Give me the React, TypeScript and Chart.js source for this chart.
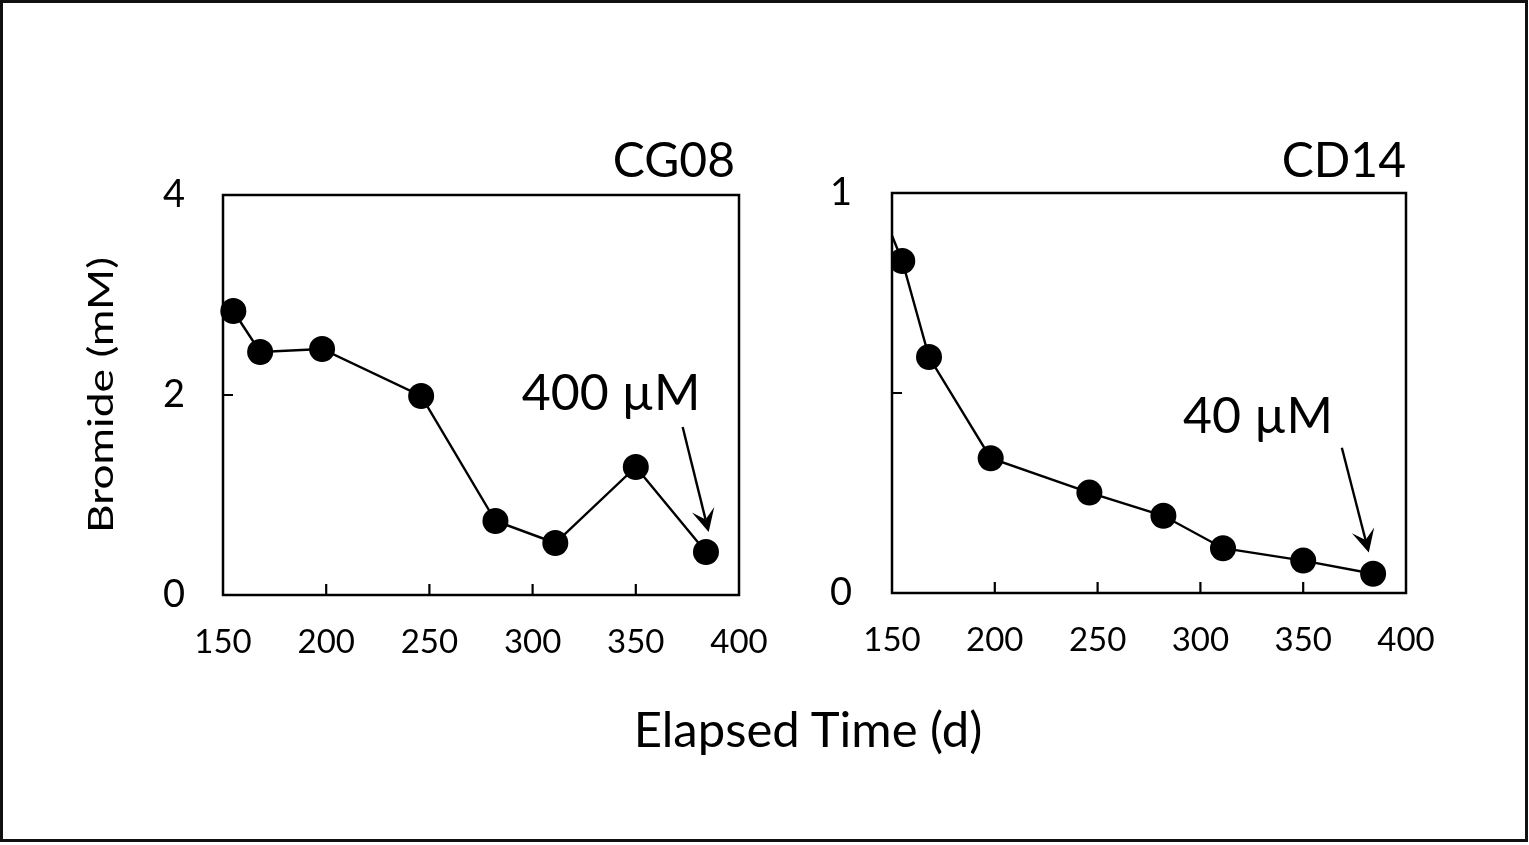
import React, { useEffect, useRef } from "react";
import { Chart, registerables } from "chart.js";

Chart.register(...registerables);

// ---- data ----
const sampleDays = [155, 168, 198, 246, 282, 311, 350, 384];
const cg08Bromide = [2.84, 2.43, 2.46, 1.99, 0.74, 0.52, 1.28, 0.43];
// CD14 has an earlier sample (day 140) that lies left of the plotted window
const cd14Days = [140, 155, 168, 198, 246, 282, 311, 350, 384];
const cd14Bromide = [1.02, 0.83, 0.59, 0.337, 0.251, 0.193, 0.112, 0.081, 0.048];
const xTickValues = [150, 200, 250, 300, 350, 400];
const cg08YTicks = [0, 2, 4];
const cd14YTicks = [0, 0.5, 1];
const cd14HiddenYLabels = [0.5];

const FONT = "Lato, 'Open Sans', 'DejaVu Sans', sans-serif";

type Note = { text: string; tx: number; ty: number; from: [number, number]; to: [number, number] };

type Panel = {
  title: string;
  titleInset: number;
  titleGap: number;
  xs: number[];
  ys: number[];
  hiddenBefore: number;
  yMax: number;
  yTicks: number[];
  hiddenLabels: number[];
  yWidth: number;
  xHeight: number;
  padTop: number;
  padRight: number;
  yLabelPad: number;
  yTitle?: string;
  note: Note;
  clip: any;
};

const cg08Panel: Panel = {
  title: "CG08",
  titleInset: 4,
  titleGap: 18,
  xs: sampleDays,
  ys: cg08Bromide,
  hiddenBefore: 150,
  yMax: 4,
  yTicks: cg08YTicks,
  hiddenLabels: [],
  yWidth: 163,
  xHeight: 105,
  padTop: 95,
  padRight: 41,
  yLabelPad: 38,
  yTitle: "Bromide (mM)",
  note: { text: "400 µM", tx: 338, ty: 1.85, from: [372.7, 1.68], to: [385.3, 0.63] },
  clip: false,
};

const cd14Panel: Panel = {
  title: "CD14",
  titleInset: 0,
  titleGap: 16,
  xs: cd14Days,
  ys: cd14Bromide,
  hiddenBefore: 150,
  yMax: 1,
  yTicks: cd14YTicks,
  hiddenLabels: cd14HiddenYLabels,
  yWidth: 112,
  xHeight: 107,
  padTop: 93,
  padRight: 94,
  yLabelPad: 40,
  note: { text: "40 µM", tx: 328, ty: 0.4, from: [368.8, 0.363], to: [381.9, 0.101] },
  clip: { left: 1, right: 30, top: 30, bottom: 30 },
};

function makeDecor(panel: Panel) {
  return {
    id: "decor",
    beforeDatasetsDraw(chart: any) {
      const { ctx, chartArea: a, scales } = chart;
      ctx.save();
      ctx.strokeStyle = "#000";
      ctx.lineWidth = 2.5;
      ctx.strokeRect(a.left, a.top, a.right - a.left, a.bottom - a.top);
      ctx.lineWidth = 2.2;
      ctx.beginPath();
      for (const v of xTickValues) {
        if (v <= scales.x.min || v >= scales.x.max) continue;
        const px = scales.x.getPixelForValue(v);
        ctx.moveTo(px, a.bottom);
        ctx.lineTo(px, a.bottom - 11);
      }
      for (const v of panel.yTicks) {
        if (v <= scales.y.min || v >= scales.y.max) continue;
        const py = scales.y.getPixelForValue(v);
        ctx.moveTo(a.left, py);
        ctx.lineTo(a.left + 10, py);
      }
      ctx.stroke();
      ctx.restore();
    },
    afterDraw(chart: any) {
      const { ctx, chartArea: a, scales } = chart;
      ctx.save();
      ctx.fillStyle = "#000";
      ctx.strokeStyle = "#000";
      // panel title
      ctx.font = `48px ${FONT}`;
      ctx.textAlign = "right";
      ctx.textBaseline = "alphabetic";
      ctx.fillText(panel.title, a.right - panel.titleInset, a.top - panel.titleGap);

      // annotation text
      const n = panel.note;
      ctx.font = `50px ${FONT}`;
      ctx.textAlign = "center";
      ctx.fillText(n.text, scales.x.getPixelForValue(n.tx), scales.y.getPixelForValue(n.ty));

      // arrow
      const x1 = scales.x.getPixelForValue(n.from[0]);
      const y1 = scales.y.getPixelForValue(n.from[1]);
      const x2 = scales.x.getPixelForValue(n.to[0]);
      const y2 = scales.y.getPixelForValue(n.to[1]);
      const len = Math.hypot(x2 - x1, y2 - y1);
      const ux = (x2 - x1) / len;
      const uy = (y2 - y1) / len;
      const px = -uy;
      const py = ux;
      const headLen = 23;
      const headHalf = 11.5;
      const notch = 13;
      ctx.lineWidth = 2.4;
      ctx.beginPath();
      ctx.moveTo(x1, y1);
      ctx.lineTo(x2 - ux * notch, y2 - uy * notch);
      ctx.stroke();
      ctx.beginPath();
      ctx.moveTo(x2, y2);
      ctx.lineTo(x2 - ux * headLen + px * headHalf, y2 - uy * headLen + py * headHalf);
      ctx.lineTo(x2 - ux * notch, y2 - uy * notch);
      ctx.lineTo(x2 - ux * headLen - px * headHalf, y2 - uy * headLen - py * headHalf);
      ctx.closePath();
      ctx.fill();

      // y axis title (stretched along its length like the source figure)
      if (panel.yTitle) {
        ctx.font = `34px ${FONT}`;
        const w = ctx.measureText(panel.yTitle).width;
        const target = 276;
        const cy = (a.top + a.bottom) / 2;
        ctx.translate(a.left - 110, cy);
        ctx.rotate(-Math.PI / 2);
        ctx.scale(target / w, 1);
        ctx.textAlign = "center";
        ctx.textBaseline = "alphabetic";
        ctx.fillText(panel.yTitle, 0, 0);
      }
      ctx.restore();
    },
  };
}

function buildChart(canvas: HTMLCanvasElement, panel: Panel) {
  const data = panel.xs.map((x, i) => ({ x, y: panel.ys[i] }));
  const radii = panel.xs.map((x) => (x < panel.hiddenBefore ? 0 : 13));
  return new Chart(canvas, {
    type: "line",
    data: {
      datasets: [
        {
          data,
          borderColor: "#000",
          backgroundColor: "#000",
          borderWidth: 2.4,
          pointRadius: radii,
          pointBackgroundColor: "#000",
          pointBorderWidth: 0,
          pointHoverRadius: radii,
          tension: 0,
          clip: panel.clip,
        } as any,
      ],
    },
    options: {
      responsive: false,
      animation: false,
      devicePixelRatio: 1,
      events: [],
      layout: { padding: { top: panel.padTop, right: panel.padRight, left: 0, bottom: 0 } },
      plugins: { legend: { display: false }, tooltip: { enabled: false }, title: { display: false } },
      scales: {
        x: {
          type: "linear",
          min: 150,
          max: 400,
          afterBuildTicks: (s: any) => {
            s.ticks = xTickValues.map((value) => ({ value }));
          },
          afterFit: (s: any) => {
            s.height = panel.xHeight;
            s.paddingLeft = 0;
            s.paddingRight = 0;
          },
          ticks: {
            color: "#000",
            font: { family: FONT, size: 33 },
            padding: 28,
            maxRotation: 0,
            autoSkip: false,
            callback: (v: any) => String(v),
          },
          grid: { display: false, drawTicks: false },
          border: { display: false },
        },
        y: {
          type: "linear",
          min: 0,
          max: panel.yMax,
          afterBuildTicks: (s: any) => {
            s.ticks = panel.yTicks.map((value) => ({ value }));
          },
          afterFit: (s: any) => {
            s.width = panel.yWidth;
            s.paddingTop = 0;
            s.paddingBottom = 0;
          },
          ticks: {
            color: "#000",
            font: { family: FONT, size: 38 },
            padding: panel.yLabelPad,
            autoSkip: false,
            callback: (v: any) => (panel.hiddenLabels.includes(Number(v)) ? "" : String(v)),
          },
          grid: { display: false, drawTicks: false },
          border: { display: false },
        },
      },
    },
    plugins: [makeDecor(panel)],
  } as any);
}

function PanelChart({ panel, left, top }: { panel: Panel; left: number; top: number }) {
  const ref = useRef<HTMLCanvasElement | null>(null);
  useEffect(() => {
    if (!ref.current) return;
    const chart = buildChart(ref.current, panel);
    return () => chart.destroy();
  }, [panel]);
  return (
    <canvas
      ref={ref}
      width={720}
      height={600}
      style={{ position: "absolute", left, top, width: 720, height: 600 }}
    />
  );
}

export default function App() {
  return (
    <div
      style={{
        position: "absolute",
        left: 0,
        top: 0,
        width: 1529,
        height: 845,
        background: "#fff",
        overflow: "hidden",
      }}
    >
      <div
        style={{
          position: "absolute",
          left: 0,
          top: 0,
          width: 1528,
          height: 842,
          border: "3px solid #111",
          boxSizing: "border-box",
        }}
      />
      <PanelChart panel={cg08Panel} left={60} top={100} />
      <PanelChart panel={cd14Panel} left={780} top={100} />
      <div
        style={{
          position: "absolute",
          left: 508,
          width: 600,
          top: 704,
          height: 49,
          lineHeight: "49px",
          fontSize: 49,
          fontFamily: FONT,
          color: "#000",
          textAlign: "center",
          whiteSpace: "nowrap",
        }}
      >
        Elapsed Time (d)
      </div>
    </div>
  );
}
